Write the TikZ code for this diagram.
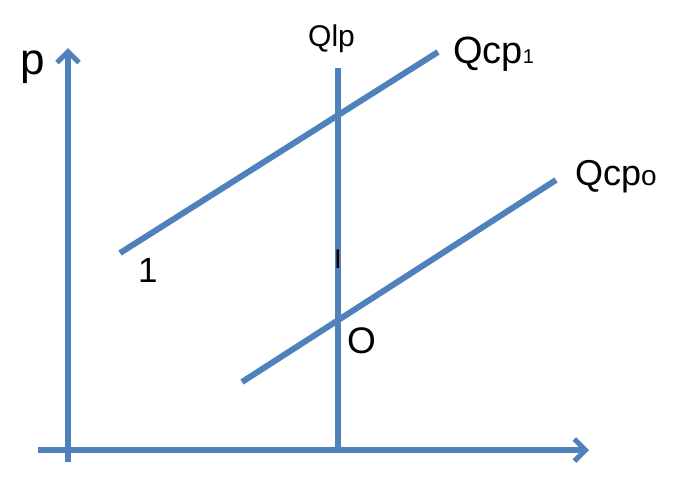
\documentclass[tikz,border=0pt]{standalone}
\usepackage{fontspec}
\setmainfont{Liberation Sans}
\usetikzlibrary{arrows.meta}
\definecolor{lblue}{RGB}{79,129,189}
\begin{document}
\begin{tikzpicture}[x=1pt,y=-1pt,
  ln/.style={draw=lblue,line width=6pt},
  ax/.style={ln,-{Straight Barb[length=11pt,width=22pt,line width=5pt]}},
  lab/.style={inner sep=0pt,anchor=base west,text=black}]
\useasboundingbox (0,0) rectangle (690,483);
% axes
\coordinate (yb) at (68,462);
\coordinate (yt) at (68,48);
\coordinate (xl) at (38,450);
\coordinate (xr) at (589,450);
\draw[ax] (yb) -- (yt);
\draw[ax] (xl) -- (xr);
% Qlp
\coordinate (lt) at (338,68);
\coordinate (lb) at (338,447);
\draw[ln] (lt) -- (lb);
% Qcp1
\coordinate (a1) at (120,253);
\coordinate (b1) at (438,52);
\draw[ln] (a1) -- (b1);
% Qcp0
\coordinate (a0) at (242,382);
\coordinate (b0) at (556,180);
\draw[ln] (a0) -- (b0);
% labels
\node[lab,font=\fontsize{44}{48}\selectfont] (p) at (20,74) {p};
\node[lab,font=\fontsize{30}{33}\selectfont] (qlp) at (308,46) {Qlp};
\node[lab,font=\fontsize{38}{41}\selectfont] (qcp1) at (453,63) {Qcp{\fontsize{20}{22}\selectfont 1}};
\node[lab,font=\fontsize{36}{39}\selectfont] (qcp0) at (575,185) {Qcp{\fontsize{28}{30}\selectfont o}};
\node[lab,font=\fontsize{35}{38}\selectfont] (one) at (138,282) {1};
\node[lab,font=\fontsize{37}{40}\selectfont] (o) at (347,353) {O};
\node[lab,font=\fontsize{27}{30}\selectfont] (i) at (334,268) {I};
\end{tikzpicture}
\end{document}
